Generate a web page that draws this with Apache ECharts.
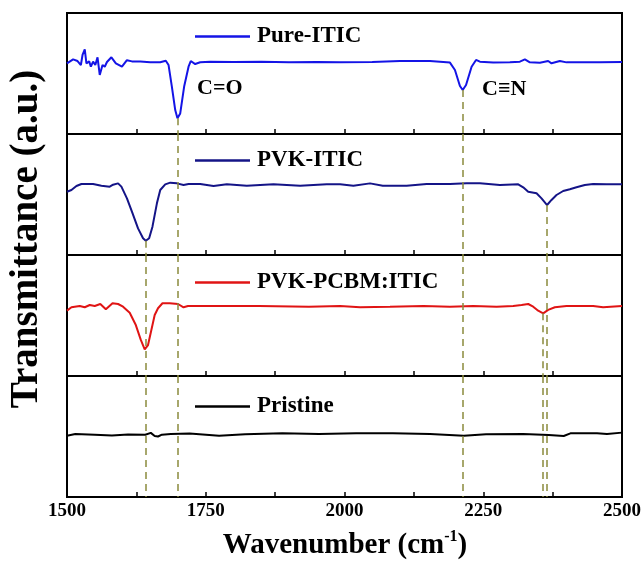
<!DOCTYPE html>
<html><head><meta charset="utf-8">
<script src="https://cdn.jsdelivr.net/npm/echarts@6/dist/echarts.min.js"></script>
<style>html,body{margin:0;padding:0;background:#fff}#c{width:644px;height:563px}</style>
</head><body><div id="c"></div>
<script>
// ---- data (wavenumber cm^-1, transmittance a.u. per panel 0-100) ----
const seriesNames = ['Pure-ITIC', 'PVK-ITIC', 'PVK-PCBM:ITIC', 'Pristine'];
const xTicks = [1500, 1750, 2000, 2250, 2500];

const pureITIC = [
 [1500,58.4],[1511,61.7],[1519,60.3],[1525,57],[1528,65.3],[1532,70],[1535,58.4],[1540,60],[1543,55.6],[1547,59.8],
 [1551,57],[1555,63.4],[1559,48.8],[1564,57],[1568,55.6],[1572,59.5],[1580,63.4],[1588,58.4],[1599,55.6],[1608,61],
 [1617,60],[1632,60],[1650,59.3],[1668,59.3],[1678,60.6],[1683,57],[1689,39],[1695,19.8],[1699,13],[1704,17],
 [1711,39],[1719,55.6],[1723,60.3],[1731,57.8],[1740,59.3],[1758,59.8],[1800,59.5],[1850,59.8],[1900,59.3],[1950,59.6],
 [1992,59.2],[2050,59.6],[2100,60.3],[2154,60.3],[2190,59],[2199,52.9],[2208,39.7],[2213,36.4],[2219,40.5],[2229,55.6],
 [2237,61.2],[2244,59.8],[2268,59],[2298,59.2],[2316,59.8],[2325,61.7],[2334,59.2],[2352,58.9],[2367,60.3],[2373,58.4],
 [2388,60.3],[2400,59.2],[2424,59.2],[2460,59.2],[2500,59.5]
];
const pvkITIC = [
 [1500,52.3],[1508,53.7],[1517,57],[1526,58.7],[1547,58.7],[1562,57.3],[1577,56.5],[1583,58.1],[1592,59.2],[1598,56.5],
 [1608,46.8],[1617,35.8],[1628,22],[1637,13.8],[1642,11.8],[1648,13.8],[1654,23.4],[1662,42.7],[1668,53.7],[1677,58.4],
 [1686,59.8],[1698,59.2],[1710,57.9],[1719,58.7],[1740,58.7],[1764,57],[1788,58.4],[1824,57.3],[1872,58.4],[1920,57.3],
 [1968,58.4],[1992,58.4],[2016,57.3],[2046,59.2],[2069,57.3],[2112,57.3],[2148,58.7],[2190,58.7],[2220,59.2],[2244,59.2],
 [2280,57.9],[2313,58.4],[2322,55.9],[2331,52.3],[2346,51],[2355,46.8],[2365,41.3],[2373,45.5],[2382,49.6],[2394,52.9],
 [2406,54.3],[2418,56],[2433,57.9],[2448,58.7],[2472,58.4],[2500,58.4]
];
const pvkPCBM = [
 [1500,54],[1508,56.8],[1523,57.9],[1532,56.8],[1541,58.7],[1550,57.9],[1560,59.5],[1570,55.1],[1582,60.1],[1592,59.5],
 [1601,57.3],[1613,52.3],[1624,42.1],[1633,29.8],[1640,22],[1642,21.5],[1646,25.6],[1652,38],[1658,50.4],[1664,56],
 [1672,60.1],[1685,60.1],[1700,59.5],[1710,56.8],[1718,57.9],[1745,57.9],[1786,57.9],[1846,57.9],[1936,57.3],[1992,57.9],
 [2028,56.8],[2082,57.3],[2142,57.9],[2190,57.3],[2232,57.9],[2274,57.3],[2304,57.9],[2319,58.7],[2331,59.5],[2340,57.3],
 [2349,54],[2358,51.8],[2367,54.6],[2379,56.8],[2400,57.9],[2448,57.9],[2466,56.8],[2500,57.9]
];
const pristine = [
 [1500,50.7],[1515,52],[1550,51.5],[1581,50.9],[1610,51.6],[1641,51.5],[1651,53],[1658,50.4],[1664,50],[1671,51.5],
 [1687,52],[1721,52.5],[1774,50.7],[1821,51.8],[1888,52.6],[1954,52],[2021,52.6],[2087,52.6],[2154,52],[2215,50.7],
 [2255,51.8],[2322,52],[2368,51.2],[2395,50.4],[2407,52.6],[2455,52.6],[2473,52],[2500,53.2]
];
// dashed guide lines: [wavenumber, panel index where it starts, start value]
const guides = [[1699,0,13],[2213,0,36.4],[1642,1,11.8],[2365,1,41.3],[2358,2,51.8]];
const annotations = ['C=O', 'C\u2261N'];

// ---- chart ----
const allData = [pureITIC, pvkITIC, pvkPCBM, pristine];
const colors = ['#1414e6', '#141487', '#e01414', '#000000'];
const FONT = '"Liberation Serif","Times New Roman",serif';
const L = 67, W = 555, T0 = 13, H = 121;
const legendY = [37, 161, 283, 407];

const grids = [], xAxes = [], yAxes = [], series = [], legends = [];
for (let i = 0; i < 4; i++) {
  grids.push({left: L, top: T0 + i * H, width: W, height: H, show: true, borderColor: '#000', borderWidth: 2, containLabel: false});
  xAxes.push({
    gridIndex: i, type: 'value', min: 1500, max: 2500, interval: 125,
    axisLine: {show: true, lineStyle: {color: '#000', width: 2}},
    axisTick: {show: true, inside: true, length: 5, lineStyle: {color: '#000', width: 1.5}},
    splitLine: {show: false},
    axisLabel: {show: i === 3, margin: 5, color: '#000', fontFamily: FONT, fontWeight: 'bold', fontSize: 19,
      formatter: v => (xTicks.indexOf(v) >= 0 ? String(v) : '')}
  });
  yAxes.push({gridIndex: i, type: 'value', min: 0, max: 100, show: true,
    axisLine: {show: false}, axisTick: {show: false}, axisLabel: {show: false}, splitLine: {show: false}});
  const mlData = [];
  guides.forEach(g => {
    if (g[1] === i) mlData.push([{coord: [g[0], g[2]]}, {coord: [g[0], 0]}]);
    else if (g[1] < i) mlData.push([{coord: [g[0], 100]}, {coord: [g[0], 0]}]);
  });
  series.push({
    name: seriesNames[i], type: 'line', xAxisIndex: i, yAxisIndex: i, data: allData[i],
    showSymbol: false, symbol: 'none', smooth: false, color: colors[i],
    lineStyle: {color: colors[i], width: 2}, z: 3,
    markLine: {silent: true, symbol: ['none', 'none'], label: {show: false}, animation: false,
      lineStyle: {color: '#8a8a3c', width: 1.5, type: [7, 5]}, data: mlData}
  });
  legends.push({
    data: [{name: seriesNames[i], icon: 'rect'}], left: 195, top: legendY[i] - 12, padding: 0,
    itemWidth: 55, itemHeight: 2.5, itemGap: 0, selectedMode: false,
    textStyle: {fontFamily: FONT, fontWeight: 'bold', fontSize: 23, color: '#000', padding: [0, 0, 0, 2]}
  });
}

const chart = echarts.init(document.getElementById('c'), null, {renderer: 'canvas'});
chart.setOption({
  animation: false,
  backgroundColor: '#fff',
  grid: grids, xAxis: xAxes, yAxis: yAxes, series: series, legend: legends,
  graphic: [
    {type: 'text', left: 197, top: 77, style: {text: annotations[0], font: 'bold 22px ' + FONT, fill: '#000'}},
    {type: 'text', left: 482, top: 78, style: {text: annotations[1], font: 'bold 22px ' + FONT, fill: '#000'}},
    {type: 'text', x: 345, y: 546, style: {text: '{b|Wavenumber (cm}{sup|-1}{b|)}', fill: '#000',
      align: 'center', verticalAlign: 'middle',
      rich: {
        b: {fontFamily: FONT, fontWeight: 'bold', fontSize: 29, lineHeight: 34, verticalAlign: 'middle'},
        sup: {fontFamily: FONT, fontWeight: 'bold', fontSize: 16, lineHeight: 20, verticalAlign: 'top'}
      }}},
    {type: 'text', x: 27, y: 239, rotation: Math.PI / 2,
      style: {text: 'Transmittance (a.u.)', font: 'bold 39px ' + FONT, fill: '#000', align: 'center', verticalAlign: 'middle'}}
  ]
});
</script></body></html>
